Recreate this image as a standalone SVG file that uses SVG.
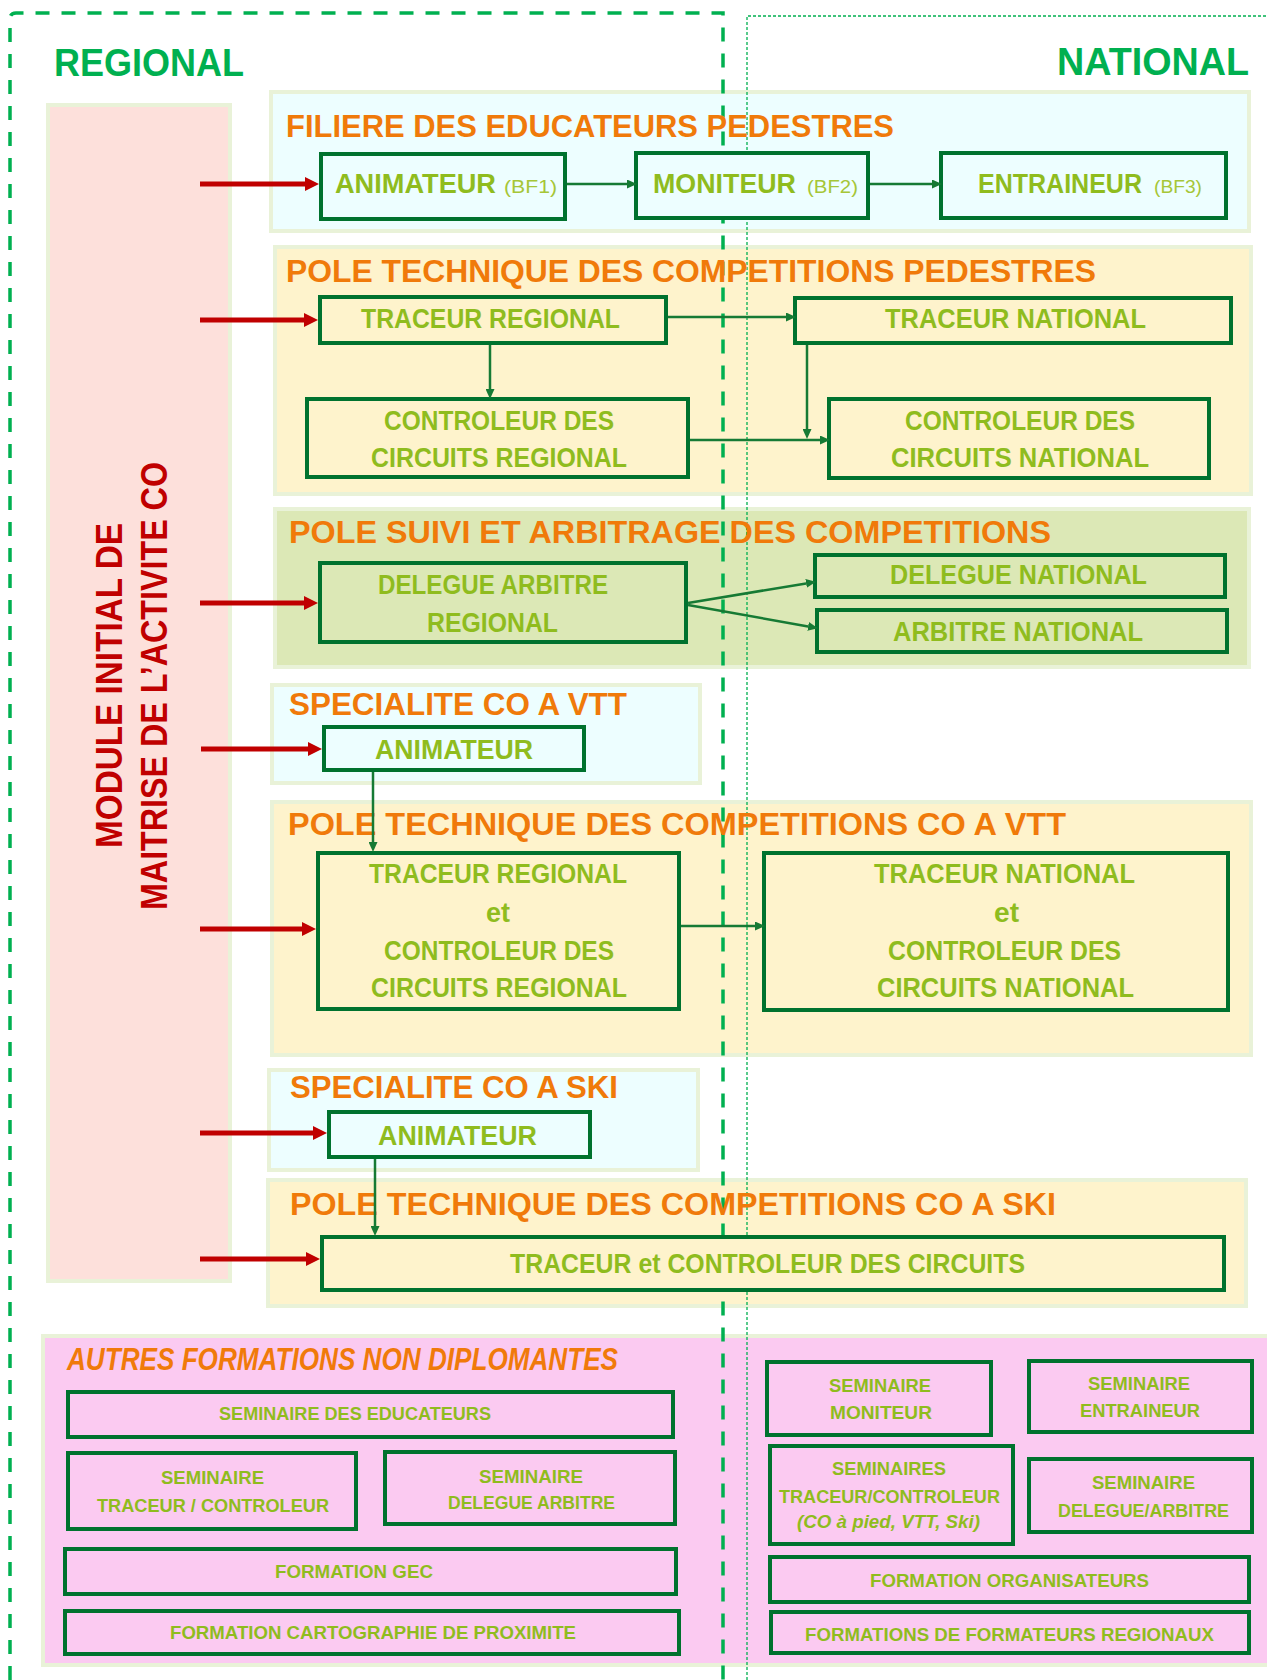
<svg xmlns="http://www.w3.org/2000/svg" width="1267" height="1680" viewBox="0 0 1267 1680">
<defs>
<style>
text{font-family:'Liberation Sans',Arial,sans-serif;}
.hdr{font-size:39px;font-weight:bold;fill:#00B050;}
.sec{stroke:#E9F2D8;stroke-width:4;}
.cyan{fill:#EDFEFF;}
.yel{fill:#FEF3CC;}
.olive{fill:#DCE8B6;}
.pink{fill:#FBCAF1;}
.ttl{font-size:32px;font-weight:bold;fill:#F07A0A;}
.box{stroke:#00722E;stroke-width:4;}
.bt{font-size:27.5px;font-weight:bold;fill:#8FBC1E;}
.bf{font-size:19px;fill:#A6C637;}
.st{font-size:18px;font-weight:bold;fill:#8FBC1E;}
.gc{stroke:#167A34;stroke-width:2.5;fill:none;}
.rc{stroke:#C00000;stroke-width:5;fill:none;}
.dash{stroke:#00B050;stroke-width:3.5;stroke-dasharray:14 12;fill:none;}
.dot{stroke:#00B050;stroke-width:1.3;stroke-dasharray:3 2;fill:none;}
</style>
<marker id="ga" markerUnits="userSpaceOnUse" markerWidth="10" markerHeight="9" refX="0" refY="4.5" orient="auto"><path d="M0,0 L10,4.5 L0,9 z" fill="#167A34"/></marker>
<marker id="ra" markerUnits="userSpaceOnUse" markerWidth="14" markerHeight="14" refX="0" refY="7" orient="auto"><path d="M0,0 L14,7 L0,14 z" fill="#C00000"/></marker>
</defs>
<rect x="0" y="0" width="1267" height="1680" fill="#FFFFFF"/>

<g id="sections">
<rect id="sec-filiere" class="sec cyan" x="271" y="92" width="978" height="139"/>
<rect id="sec-pole-pedestre" class="sec yel" x="275" y="247" width="976" height="247"/>
<rect id="sec-arbitrage" class="sec olive" x="275" y="509" width="974" height="158"/>
<rect id="sec-vtt" class="sec cyan" x="272" y="685" width="428" height="98"/>
<rect id="sec-pole-vtt" class="sec yel" x="272" y="802" width="979" height="253"/>
<rect id="sec-ski" class="sec cyan" x="269" y="1070" width="429" height="100"/>
<rect id="sec-pole-ski" class="sec yel" x="268" y="1180" width="978" height="126"/>
<rect id="sec-autres" class="sec pink" x="43" y="1336" width="1228" height="329"/>
</g>

<g id="module">
<rect class="sec" fill="#FDE0DB" x="48" y="105" width="182" height="1176"/>
<text x="122" y="685.5" transform="rotate(-90 122 685.5)" text-anchor="middle" font-size="37" font-weight="bold" fill="#C00000" textLength="325" lengthAdjust="spacingAndGlyphs">MODULE INITIAL DE</text>
<text x="167" y="686" transform="rotate(-90 167 686)" text-anchor="middle" font-size="37" font-weight="bold" fill="#C00000" textLength="448" lengthAdjust="spacingAndGlyphs">MAITRISE DE L’ACTIVITE CO</text>
</g>

<g id="zones">
<path class="dash" d="M10,1680 L10,19 Q10,13 16,13 L723,13 L723,1680"/>
<path class="dot" d="M747,1680 L747,16 L1267,16"/>
<text class="hdr" x="54" y="76" textLength="190" lengthAdjust="spacingAndGlyphs">REGIONAL</text>
<text class="hdr" x="1057" y="75" textLength="192" lengthAdjust="spacingAndGlyphs">NATIONAL</text>
</g>

<g id="titles">
<text class="ttl" x="286" y="137" textLength="608" lengthAdjust="spacingAndGlyphs">FILIERE DES EDUCATEURS PEDESTRES</text>
<text class="ttl" x="286" y="282" textLength="810" lengthAdjust="spacingAndGlyphs">POLE TECHNIQUE DES COMPETITIONS PEDESTRES</text>
<text class="ttl" x="289" y="543" textLength="762" lengthAdjust="spacingAndGlyphs">POLE SUIVI ET ARBITRAGE DES COMPETITIONS</text>
<text class="ttl" x="289" y="715" textLength="338" lengthAdjust="spacingAndGlyphs">SPECIALITE CO A VTT</text>
<text class="ttl" x="288" y="835" textLength="778" lengthAdjust="spacingAndGlyphs">POLE TECHNIQUE DES COMPETITIONS CO A VTT</text>
<text class="ttl" x="290" y="1098" textLength="328" lengthAdjust="spacingAndGlyphs">SPECIALITE CO A SKI</text>
<text class="ttl" x="290" y="1215" textLength="766" lengthAdjust="spacingAndGlyphs">POLE TECHNIQUE DES COMPETITIONS CO A SKI</text>
<text class="ttl" x="67" y="1370" font-size="26" font-style="italic" textLength="551" lengthAdjust="spacingAndGlyphs">AUTRES FORMATIONS NON DIPLOMANTES</text>
</g>

<g id="n-animateur-bf1">
<rect class="box cyan" x="321" y="154" width="244" height="65"/>
<text class="bt" x="335" y="193" textLength="161" lengthAdjust="spacingAndGlyphs">ANIMATEUR</text>
<text class="bf" x="504" y="193" textLength="53" lengthAdjust="spacingAndGlyphs">(BF1)</text>
</g>
<g id="n-moniteur-bf2">
<rect class="box cyan" x="636" y="153" width="232" height="65"/>
<text class="bt" x="653" y="193" textLength="143" lengthAdjust="spacingAndGlyphs">MONITEUR</text>
<text class="bf" x="807" y="193" textLength="51" lengthAdjust="spacingAndGlyphs">(BF2)</text>
</g>
<g id="n-entraineur-bf3">
<rect class="box cyan" x="941" y="153" width="285" height="65"/>
<text class="bt" x="978" y="193" textLength="164" lengthAdjust="spacingAndGlyphs">ENTRAINEUR</text>
<text class="bf" x="1154" y="193" textLength="48" lengthAdjust="spacingAndGlyphs">(BF3)</text>
</g>

<g id="n-traceur-regional">
<rect class="box yel" x="320" y="297" width="346" height="46"/>
<text class="bt" x="361" y="328" textLength="259" lengthAdjust="spacingAndGlyphs">TRACEUR REGIONAL</text>
</g>
<g id="n-controleur-regional">
<rect class="box yel" x="307" y="399" width="381" height="78"/>
<text class="bt" x="384" y="430" textLength="230" lengthAdjust="spacingAndGlyphs">CONTROLEUR DES</text>
<text class="bt" x="371" y="467" textLength="256" lengthAdjust="spacingAndGlyphs">CIRCUITS REGIONAL</text>
</g>
<g id="n-traceur-national">
<rect class="box yel" x="795" y="298" width="436" height="45"/>
<text class="bt" x="885" y="328" textLength="261" lengthAdjust="spacingAndGlyphs">TRACEUR NATIONAL</text>
</g>
<g id="n-controleur-national">
<rect class="box yel" x="829" y="399" width="380" height="79"/>
<text class="bt" x="905" y="430" textLength="230" lengthAdjust="spacingAndGlyphs">CONTROLEUR DES</text>
<text class="bt" x="891" y="467" textLength="258" lengthAdjust="spacingAndGlyphs">CIRCUITS NATIONAL</text>
</g>

<g id="n-delegue-arbitre-regional">
<rect class="box olive" x="320" y="563" width="366" height="79"/>
<text class="bt" x="378" y="594" textLength="230" lengthAdjust="spacingAndGlyphs">DELEGUE ARBITRE</text>
<text class="bt" x="427" y="632" textLength="131" lengthAdjust="spacingAndGlyphs">REGIONAL</text>
</g>
<g id="n-delegue-national">
<rect class="box olive" x="815" y="555" width="410" height="42"/>
<text class="bt" x="890" y="584" textLength="257" lengthAdjust="spacingAndGlyphs">DELEGUE NATIONAL</text>
</g>
<g id="n-arbitre-national">
<rect class="box olive" x="817" y="610" width="410" height="42"/>
<text class="bt" x="893" y="641" textLength="250" lengthAdjust="spacingAndGlyphs">ARBITRE NATIONAL</text>
</g>

<g id="n-animateur-vtt">
<rect class="box cyan" x="324" y="727" width="260" height="43"/>
<text class="bt" x="375" y="759" textLength="158" lengthAdjust="spacingAndGlyphs">ANIMATEUR</text>
</g>
<g id="n-vtt-regional">
<rect class="box yel" x="318" y="853" width="361" height="156"/>
<text class="bt" x="369" y="883" textLength="258" lengthAdjust="spacingAndGlyphs">TRACEUR REGIONAL</text>
<text class="bt" x="486" y="922" textLength="24" lengthAdjust="spacingAndGlyphs">et</text>
<text class="bt" x="384" y="960" textLength="230" lengthAdjust="spacingAndGlyphs">CONTROLEUR DES</text>
<text class="bt" x="371" y="997" textLength="256" lengthAdjust="spacingAndGlyphs">CIRCUITS REGIONAL</text>
</g>
<g id="n-vtt-national">
<rect class="box yel" x="764" y="853" width="464" height="157"/>
<text class="bt" x="874" y="883" textLength="261" lengthAdjust="spacingAndGlyphs">TRACEUR NATIONAL</text>
<text class="bt" x="994" y="922" textLength="25" lengthAdjust="spacingAndGlyphs">et</text>
<text class="bt" x="888" y="960" textLength="233" lengthAdjust="spacingAndGlyphs">CONTROLEUR DES</text>
<text class="bt" x="877" y="997" textLength="257" lengthAdjust="spacingAndGlyphs">CIRCUITS NATIONAL</text>
</g>

<g id="n-animateur-ski">
<rect class="box cyan" x="329" y="1112" width="261" height="45"/>
<text class="bt" x="378" y="1145" textLength="159" lengthAdjust="spacingAndGlyphs">ANIMATEUR</text>
</g>
<g id="n-ski-traceur-controleur">
<rect class="box yel" x="322" y="1237" width="902" height="53"/>
<text class="bt" x="510" y="1273" textLength="515" lengthAdjust="spacingAndGlyphs">TRACEUR et CONTROLEUR DES CIRCUITS</text>
</g>

<g id="n-seminaire-educateurs">
<rect class="box pink" x="68" y="1392" width="605" height="45"/>
<text class="st" x="219" y="1420" textLength="272" lengthAdjust="spacingAndGlyphs">SEMINAIRE DES EDUCATEURS</text>
</g>
<g id="n-seminaire-traceur-controleur">
<rect class="box pink" x="68" y="1453" width="288" height="76"/>
<text class="st" x="161" y="1484" textLength="103" lengthAdjust="spacingAndGlyphs">SEMINAIRE</text>
<text class="st" x="97" y="1512" textLength="232" lengthAdjust="spacingAndGlyphs">TRACEUR / CONTROLEUR</text>
</g>
<g id="n-seminaire-delegue-arbitre">
<rect class="box pink" x="385" y="1452" width="290" height="72"/>
<text class="st" x="479" y="1483" textLength="104" lengthAdjust="spacingAndGlyphs">SEMINAIRE</text>
<text class="st" x="448" y="1509" textLength="167" lengthAdjust="spacingAndGlyphs">DELEGUE ARBITRE</text>
</g>
<g id="n-formation-gec">
<rect class="box pink" x="65" y="1549" width="611" height="45"/>
<text class="st" x="275" y="1578" textLength="158" lengthAdjust="spacingAndGlyphs">FORMATION GEC</text>
</g>
<g id="n-formation-cartographie">
<rect class="box pink" x="65" y="1611" width="614" height="43"/>
<text class="st" x="170" y="1639" textLength="406" lengthAdjust="spacingAndGlyphs">FORMATION CARTOGRAPHIE DE PROXIMITE</text>
</g>
<g id="n-seminaire-moniteur">
<rect class="box pink" x="767" y="1362" width="224" height="73"/>
<text class="st" x="829" y="1392" textLength="102" lengthAdjust="spacingAndGlyphs">SEMINAIRE</text>
<text class="st" x="830" y="1419" textLength="102" lengthAdjust="spacingAndGlyphs">MONITEUR</text>
</g>
<g id="n-seminaire-entraineur">
<rect class="box pink" x="1029" y="1361" width="223" height="71"/>
<text class="st" x="1088" y="1390" textLength="102" lengthAdjust="spacingAndGlyphs">SEMINAIRE</text>
<text class="st" x="1080" y="1417" textLength="120" lengthAdjust="spacingAndGlyphs">ENTRAINEUR</text>
</g>
<g id="n-seminaires-traceur-controleur">
<rect class="box pink" x="770" y="1446" width="243" height="98"/>
<text class="st" x="832" y="1475" textLength="114" lengthAdjust="spacingAndGlyphs">SEMINAIRES</text>
<text class="st" x="779" y="1503" textLength="221" lengthAdjust="spacingAndGlyphs">TRACEUR/CONTROLEUR</text>
<text class="st" x="797" y="1528" font-style="italic" textLength="183" lengthAdjust="spacingAndGlyphs">(CO à pied, VTT, Ski)</text>
</g>
<g id="n-seminaire-delegue-arbitre-nat">
<rect class="box pink" x="1029" y="1459" width="223" height="73"/>
<text class="st" x="1092" y="1489" textLength="103" lengthAdjust="spacingAndGlyphs">SEMINAIRE</text>
<text class="st" x="1058" y="1517" textLength="171" lengthAdjust="spacingAndGlyphs">DELEGUE/ARBITRE</text>
</g>
<g id="n-formation-organisateurs">
<rect class="box pink" x="770" y="1557" width="479" height="45"/>
<text class="st" x="870" y="1587" textLength="279" lengthAdjust="spacingAndGlyphs">FORMATION ORGANISATEURS</text>
</g>
<g id="n-formations-formateurs">
<rect class="box pink" x="771" y="1612" width="478" height="41"/>
<text class="st" x="805" y="1641" textLength="409" lengthAdjust="spacingAndGlyphs">FORMATIONS DE FORMATEURS REGIONAUX</text>
</g>

<g id="connectors">
<line class="gc" x1="567" y1="184" x2="627" y2="184" marker-end="url(#ga)"/>
<line class="gc" x1="870" y1="184" x2="932" y2="184" marker-end="url(#ga)"/>
<line class="gc" x1="668" y1="317" x2="786" y2="317" marker-end="url(#ga)"/>
<line class="gc" x1="490" y1="345" x2="490" y2="389" marker-end="url(#ga)"/>
<line class="gc" x1="807" y1="345" x2="807" y2="429" marker-end="url(#ga)"/>
<line class="gc" x1="690" y1="440" x2="820" y2="440" marker-end="url(#ga)"/>
<line class="gc" x1="688" y1="603" x2="806.1" y2="583.4" marker-end="url(#ga)"/>
<line class="gc" x1="688" y1="605" x2="808.1" y2="626.4" marker-end="url(#ga)"/>
<line class="gc" x1="373" y1="772" x2="373" y2="842" marker-end="url(#ga)"/>
<line class="gc" x1="681" y1="926" x2="755" y2="926" marker-end="url(#ga)"/>
<line class="gc" x1="375" y1="1159" x2="375" y2="1226" marker-end="url(#ga)"/>
<line class="rc" x1="200" y1="184" x2="305" y2="184" marker-end="url(#ra)"/>
<line class="rc" x1="200" y1="320" x2="304" y2="320" marker-end="url(#ra)"/>
<line class="rc" x1="200" y1="603" x2="304" y2="603" marker-end="url(#ra)"/>
<line class="rc" x1="201" y1="749" x2="308" y2="749" marker-end="url(#ra)"/>
<line class="rc" x1="200" y1="929" x2="302" y2="929" marker-end="url(#ra)"/>
<line class="rc" x1="200" y1="1133" x2="313" y2="1133" marker-end="url(#ra)"/>
<line class="rc" x1="200" y1="1259" x2="306" y2="1259" marker-end="url(#ra)"/>
</g>
</svg>
